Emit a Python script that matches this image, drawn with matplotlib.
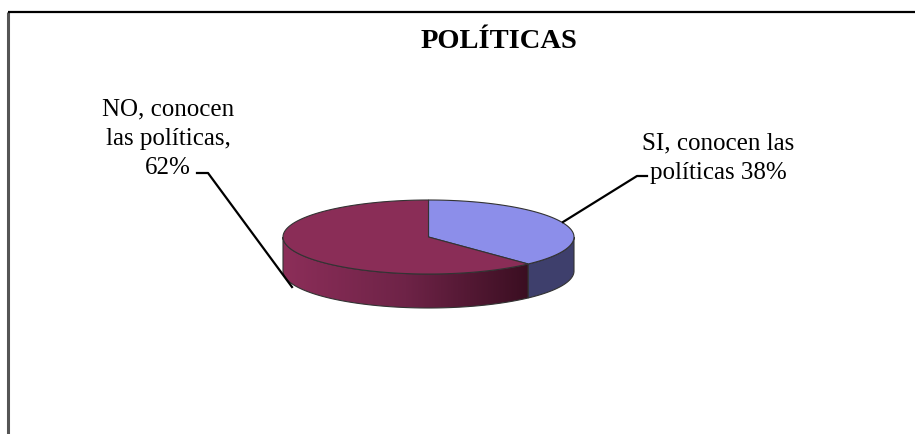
import numpy as np
import matplotlib
matplotlib.use("Agg")
import matplotlib.pyplot as plt
from matplotlib.patches import Polygon
from matplotlib.colors import LinearSegmentedColormap

title = "POLÍTICAS"
labels = ["SI, conocen las\npolíticas 38%", "NO, conocen\nlas políticas,\n62%"]
values = [38, 62]
top_colors = ["#8C8EEA", "#8A2D57"]
side_colors = ["#3E3F6C", "#8A2D57"]

W, H = 915, 435
fig = plt.figure(figsize=(W / 100, H / 100), dpi=100)
ax = fig.add_axes([0, 0, 1, 1])
ax.set_xlim(0, W)
ax.set_ylim(H, 0)
ax.axis("off")

# frame
ax.plot([8, 8], [13, H], color="#555555", lw=2.2, solid_capstyle="butt")
ax.plot([8, W], [13, 13], color="black", lw=1.6, solid_capstyle="butt")

ax.text(499, 42, title, ha="center", va="center", fontsize=20.5,
        fontweight="bold", family="Liberation Serif")

# 3D pie geometry
cx, cy, a, b, depth = 428.5, 238, 145.5, 37, 34

def pt(theta_deg, dy=0.0):
    t = np.radians(theta_deg)
    return cx + a * np.cos(t), cy - b * np.sin(t) + dy

total = float(sum(values))
start = 90.0
bounds = []
for v in values:
    end = start - 360.0 * v / total
    bounds.append((start, end))
    start = end

edge = "#333333"

# front sides (visible angles between -180 and 0)
side_ranges = [(max(bounds[0][1], -180), 0), (-180, bounds[0][1])]
for i, (lo, hi) in enumerate(side_ranges):
    if hi <= lo:
        continue
    th = np.linspace(hi, lo, 200)
    top = np.array([pt(t) for t in th])
    bot = np.array([pt(t, depth) for t in th[::-1]])
    verts = np.vstack([top, bot])
    if i == 1:
        ax.add_patch(Polygon(verts, closed=True, facecolor="none", edgecolor=edge,
                             lw=0.8, zorder=3))
        cmap = LinearSegmentedColormap.from_list("g", ["#8C2E59", "#6E2347", "#3A0E21"])
        grad = np.linspace(0, 1, 256).reshape(1, -1)
        x0, x1 = verts[:, 0].min(), verts[:, 0].max()
        y0, y1 = verts[:, 1].min(), verts[:, 1].max()
        im = ax.imshow(grad, cmap=cmap, extent=[x0, x1, y1, y0], aspect="auto",
                       zorder=2, interpolation="bilinear")
        im.set_clip_path(Polygon(verts, closed=True, transform=ax.transData))
    else:
        ax.add_patch(Polygon(verts, closed=True, facecolor=side_colors[i],
                             edgecolor=edge, lw=0.8, zorder=2))

# top faces
for i, (s, e) in enumerate(bounds):
    th = np.linspace(s, e, 300)
    arc = np.array([pt(t) for t in th])
    verts = np.vstack([[cx, cy], arc])
    ax.add_patch(Polygon(verts, closed=True, facecolor=top_colors[i],
                         edgecolor=edge, lw=0.8, zorder=4))

# labels & leader lines
ax.text(718, 158, labels[0], ha="center", va="center", fontsize=18,
        family="Liberation Serif", linespacing=1.42)
ax.plot([563, 637, 647], [223, 177, 177], color="black", lw=1.6, zorder=5)

ax.text(168, 139, labels[1], ha="center", va="center", fontsize=18,
        family="Liberation Serif", linespacing=1.42)
ax.plot([197, 208, 292], [174, 174, 288], color="black", lw=1.6, zorder=5)

fig.savefig("out.png", dpi=100)
